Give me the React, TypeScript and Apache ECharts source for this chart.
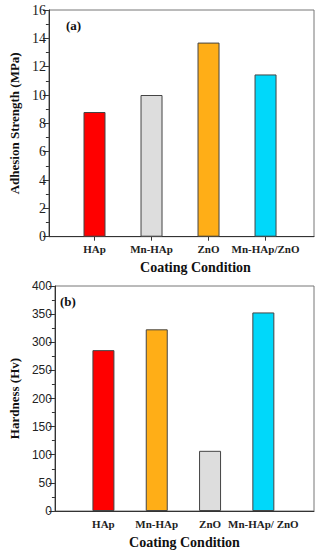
import React, { useEffect, useRef } from "react";
import * as echarts from "echarts";

const categoriesA = ["HAp", "Mn-HAp", "ZnO", "Mn-HAp/ZnO"];
const adhesionValues = [8.8, 10.0, 13.7, 11.45];
const colorsA = ["#ff0000", "#dddddd", "#ffae17", "#00d8fa"];

const categoriesB = ["HAp", "Mn-HAp", "ZnO", "Mn-HAp/ ZnO"];
const hardnessValues = [286, 323, 107, 353];
const colorsB = ["#ff0000", "#ffae17", "#dddddd", "#00d8fa"];

const positions = [1, 2, 3, 4];

const serif = "Liberation Serif";
const sans = "Liberation Sans";

export default function App() {
  const ref = useRef<HTMLDivElement>(null);
  useEffect(() => {
    if (!ref.current) return;
    const chart = echarts.init(ref.current, null, { renderer: "svg" });
    const axisLine = { show: true, lineStyle: { color: "#333", width: 1 } };
    const option: any = {
      animation: false,
      backgroundColor: "#fff",
      grid: [
        { left: 48, top: 10, width: 266, height: 226.7, show: true, borderColor: "#777", borderWidth: 1 },
        { left: 48, top: 286, width: 266, height: 225.7, show: true, borderColor: "#777", borderWidth: 1 },
      ],
      xAxis: [
        {
          type: "value",
          gridIndex: 0,
          min: 0.2,
          max: 4.85,
          axisLine,
          splitLine: { show: false },
          axisTick: { show: true, customValues: positions, length: 4, lineStyle: { color: "#333" } },
          axisLabel: {
            customValues: positions,
            formatter: (v: number) => categoriesA[Math.round(v) - 1] ?? "",
            fontFamily: serif,
            fontWeight: "bold",
            fontSize: 11,
            color: "#222",
            margin: 7,
          },
          name: "Coating Condition",
          nameLocation: "middle",
          nameGap: 24,
          nameTextStyle: { fontFamily: serif, fontWeight: "bold", fontSize: 14, color: "#111", padding: [0, 0, 0, 28] },
        },
        {
          type: "value",
          gridIndex: 1,
          min: 0.09,
          max: 4.95,
          axisLine,
          splitLine: { show: false },
          axisTick: { show: false },
          axisLabel: {
            customValues: positions,
            formatter: (v: number) => categoriesB[Math.round(v) - 1] ?? "",
            fontFamily: serif,
            fontWeight: "bold",
            fontSize: 11,
            color: "#222",
            margin: 7,
          },
          name: "Coating Condition",
          nameLocation: "middle",
          nameGap: 24,
          nameTextStyle: { fontFamily: serif, fontWeight: "bold", fontSize: 14, color: "#111" },
        },
      ],
      yAxis: [
        {
          type: "value",
          gridIndex: 0,
          min: 0,
          max: 16,
          interval: 2,
          axisLine,
          splitLine: { show: false },
          axisTick: { show: true, length: 6, lineStyle: { color: "#333" } },
          minorTick: { show: true, splitNumber: 2, length: 3, lineStyle: { color: "#333" } },
          axisLabel: { fontFamily: serif, fontSize: 14, color: "#222", margin: 3 },
          name: "Adhesion Strength (MPa)",
          nameLocation: "middle",
          nameGap: 25,
          nameTextStyle: { fontFamily: serif, fontWeight: "bold", fontSize: 13, color: "#111" },
        },
        {
          type: "value",
          gridIndex: 1,
          min: 0,
          max: 400,
          interval: 50,
          axisLine,
          splitLine: { show: false },
          axisTick: { show: true, length: 6, lineStyle: { color: "#333" } },
          minorTick: { show: true, splitNumber: 2, length: 3, lineStyle: { color: "#333" } },
          axisLabel: { fontFamily: sans, fontSize: 12, color: "#222", margin: 3 },
          name: "Hardness (Hv)",
          nameLocation: "middle",
          nameGap: 32,
          nameTextStyle: { fontFamily: serif, fontWeight: "bold", fontSize: 13, color: "#111" },
        },
      ],
      series: [
        {
          type: "bar",
          xAxisIndex: 0,
          yAxisIndex: 0,
          barWidth: 22,
          data: adhesionValues.map((v, i) => ({
            value: [positions[i], v],
            itemStyle: { color: colorsA[i], borderColor: "#444", borderWidth: 1 },
          })),
        },
        {
          type: "bar",
          xAxisIndex: 1,
          yAxisIndex: 1,
          barWidth: 22,
          data: hardnessValues.map((v, i) => ({
            value: [positions[i], v],
            itemStyle: { color: colorsB[i], borderColor: "#444", borderWidth: 1 },
          })),
        },
      ],
      graphic: [
        {
          type: "text",
          left: 66,
          top: 19,
          style: { text: "(a)", fontFamily: serif, fontWeight: "bold", fontSize: 13, fill: "#111" },
        },
        {
          type: "text",
          left: 60,
          top: 295,
          style: { text: "(b)", fontFamily: serif, fontWeight: "bold", fontSize: 13, fill: "#111" },
        },
      ],
    };
    chart.setOption(option);
    return () => chart.dispose();
  }, []);
  return (
    <div
      ref={ref}
      style={{ position: "absolute", left: 0, top: 0, width: 320, height: 550 }}
    />
  );
}
